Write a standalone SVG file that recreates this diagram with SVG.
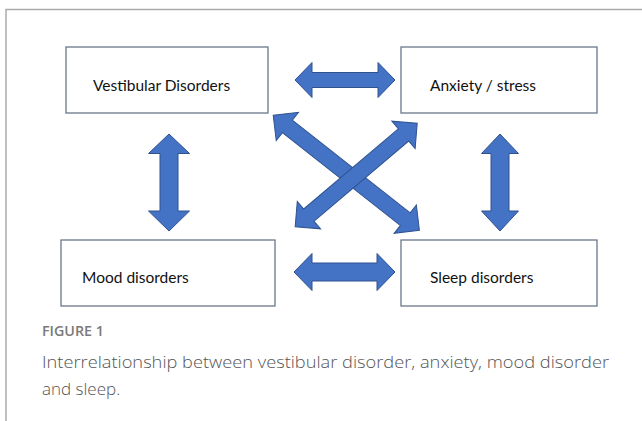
<svg xmlns="http://www.w3.org/2000/svg" width="642" height="421" viewBox="0 0 642 421">
<defs>
<style>
.box{fill:#fff;stroke:#6b778c;stroke-width:1.3}
.lbl{font-family:Lato,"Liberation Sans",sans-serif;font-size:15.5px;fill:#111}
.arr{fill:#4472C4;stroke:#2F528F;stroke-width:1}
.cap{font-family:"Open Sans",Lato,sans-serif;font-weight:300;fill:#555;font-size:17px}
.fig{font-family:"Open Sans",Lato,sans-serif;font-weight:600;fill:#7a7a7a;font-size:14.5px}
</style>
</defs>
<rect width="642" height="421" fill="#fff"/>
<path d="M6 421 V9.5 H642" fill="none" stroke="#aaaaaa" stroke-width="1.5"/>
<g id="vestibular"><rect class="box" x="66" y="47" width="202" height="66"/><text class="lbl" x="93" y="91">Vestibular Disorders</text></g>
<g id="anxiety"><rect class="box" x="401" y="47" width="196" height="66"/><text class="lbl" x="430" y="91">Anxiety / stress</text></g>
<g id="mood"><rect class="box" x="61" y="240" width="214" height="66"/><text class="lbl" x="82" y="283">Mood disorders</text></g>
<g id="sleep"><rect class="box" x="401" y="240" width="196" height="66"/><text class="lbl" x="430" y="283">Sleep disorders</text></g>
<g id="connectors">
<path class="arr" d="M295 80 L312 62.5 L312 72.5 L378 72.5 L378 62.5 L395 80 L378 97.5 L378 87.5 L312 87.5 L312 97.5 Z"/>
<path class="arr" d="M294 272 L312 253.5 L312 263 L377 263 L377 253.5 L395 272 L377 290.5 L377 281 L312 281 L312 290.5 Z"/>
<path class="arr" d="M169 134 L189.5 153.5 L178 153.5 L178 211 L189.5 211 L169 231 L148.5 211 L160 211 L160 153.5 L148.5 153.5 Z"/>
<path class="arr" d="M500 134 L518.5 153.5 L509 153.5 L509 211 L518.5 211 L500 231 L481.5 211 L491 211 L491 153.5 L481.5 153.5 Z"/>
<g transform="translate(346.3 172.8) rotate(38.2)">
<path class="arr" d="M-93 0 L-75 -18 L-75 -8 L75 -8 L75 -18 L93 0 L75 18 L75 8 L-75 8 L-75 18 Z"/>
</g>
<g transform="translate(356.2 175) rotate(139.7)">
<path class="arr" d="M-80 0 L-62 -18 L-62 -8 L62 -8 L62 -18 L80 0 L62 18 L62 8 L-62 8 L-62 18 Z"/>
</g>
</g>
<text class="fig" x="42" y="336" textLength="62" lengthAdjust="spacingAndGlyphs">FIGURE 1</text>
<text class="cap" x="42" y="368" textLength="567" lengthAdjust="spacingAndGlyphs">Interrelationship between vestibular disorder, anxiety, mood disorder</text>
<text class="cap" x="42" y="395">and sleep.</text>
</svg>
